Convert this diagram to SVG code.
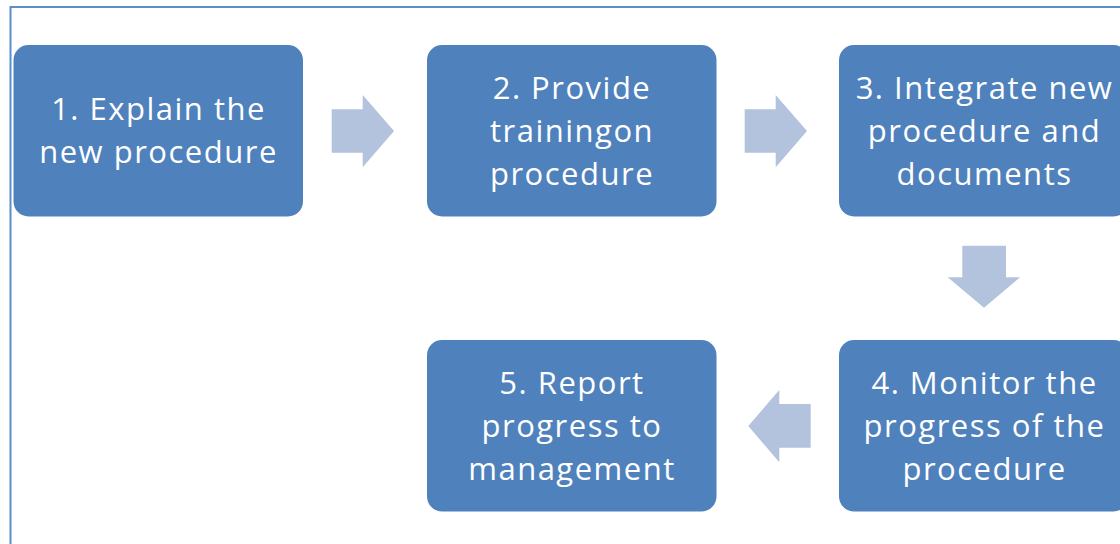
<svg xmlns="http://www.w3.org/2000/svg" width="1120" height="544" viewBox="0 0 1120 544">
  <style>
    .box { fill: #4F81BD; }
    .arrow { fill: #B3C3DE; }
    .label { font-family: "Open Sans", "Noto Sans", sans-serif; font-size: 31px; letter-spacing: 1.5px; fill: #FFFFFF; text-anchor: middle; }
  </style>
  <rect x="0" y="0" width="1120" height="544" fill="#FFFFFF"/>
  <!-- frame -->
  <path d="M10.5 544 V7 H1120" fill="none" stroke="#5B8CCB" stroke-width="2"/>

  <g id="node1">
    <rect class="box" x="13.5" y="45" width="289.5" height="171.5" rx="15"/>
    <text class="label" x="158.5" y="119.5">1. Explain the</text>
    <text class="label" x="158.5" y="162.5">new procedure</text>
  </g>
  <g id="node2">
    <rect class="box" x="427" y="45" width="289.5" height="171.5" rx="15"/>
    <text class="label" x="572" y="99">2. Provide</text>
    <text class="label" x="572" y="142">trainingon</text>
    <text class="label" x="572" y="185">procedure</text>
  </g>
  <g id="node3">
    <rect class="box" x="839" y="45" width="289.5" height="171.5" rx="15"/>
    <text class="label" x="984.5" y="99">3. Integrate new</text>
    <text class="label" x="984.5" y="142">procedure and</text>
    <text class="label" x="984.5" y="185">documents</text>
  </g>
  <g id="node4">
    <rect class="box" x="839" y="340" width="289.5" height="171.5" rx="15"/>
    <text class="label" x="984.5" y="394.3">4. Monitor the</text>
    <text class="label" x="984.5" y="437.3">progress of the</text>
    <text class="label" x="984.5" y="480.3">procedure</text>
  </g>
  <g id="node5">
    <rect class="box" x="427" y="340" width="289.5" height="171.5" rx="15"/>
    <text class="label" x="572" y="394.3">5. Report</text>
    <text class="label" x="572" y="437.3">progress to</text>
    <text class="label" x="572" y="480.3">management</text>
  </g>

  <g id="connectors">
    <polygon class="arrow" points="331.7,109.3 362.7,109.3 362.7,95 394,131 362.7,167.3 362.7,152.7 331.7,152.7"/>
    <polygon class="arrow" points="744.7,109.3 775.7,109.3 775.7,95 807,131 775.7,167.3 775.7,152.7 744.7,152.7"/>
    <polygon class="arrow" points="962.3,245.7 1006,245.7 1006,277.3 1020,277.3 984,307.7 947.7,277.3 962.3,277.3"/>
    <polygon class="arrow" points="810.7,404 779.3,404 779.3,390 748.3,426 779.3,462.3 779.3,447.7 810.7,447.7"/>
  </g>
</svg>
